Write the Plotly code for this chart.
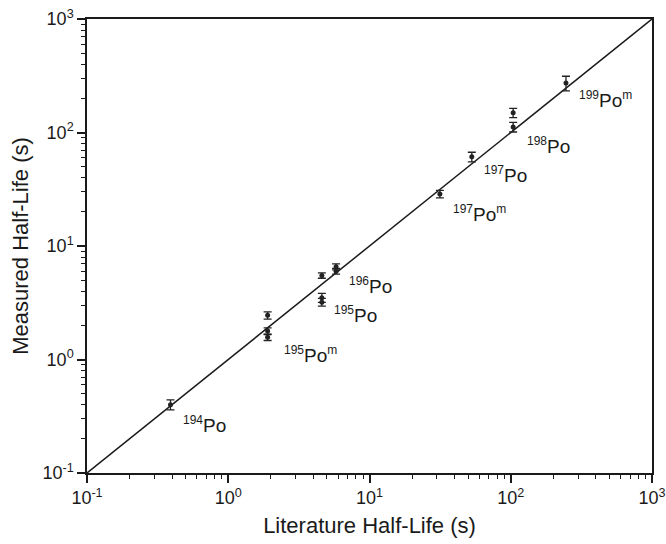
import math
import plotly.graph_objects as go

# Data (literature half-life, measured half-life, error) in seconds
lit = [0.39, 1.9, 1.9, 1.9, 4.6, 4.6, 4.6, 5.8, 5.8, 31.5, 53, 104, 104, 246]
meas = [0.40, 2.45, 1.78, 1.57, 3.5, 3.2, 5.5, 6.55, 6.0, 28.7, 61, 149, 112, 273]
err = [0.04, 0.18, 0.12, 0.1, 0.32, 0.25, 0.3, 0.4, 0.35, 2.2, 6, 14, 11, 40]

mass = ["194", "195", "195", "196", "197", "197", "198", "199"]
isomer = [False, True, False, False, True, False, False, True]
label_x = [0.68, 3.8, 7.9, 10.1, 60.5, 92.5, 184, 472]
label_y = [0.27, 1.1, 2.47, 4.45, 19.5, 42.3, 77.6, 197]

line_x = [0.1, 1000]
tickvals = [0.1, 1, 10, 100, 1000]
ticktext = ["10<sup>-1</sup>", "10<sup>0</sup>", "10<sup>1</sup>", "10<sup>2</sup>", "10<sup>3</sup>"]

FONT = "Liberation Sans, Arial"
INK = "#1a1a1a"


def sup(s):
    return "<sup><span style='font-size:12px'>" + s + "</span></sup>"


fig = go.Figure()
fig.add_trace(go.Scatter(x=line_x, y=line_x, mode="lines",
                         line=dict(color=INK, width=1.5), hoverinfo="skip"))
fig.add_trace(go.Scatter(x=lit, y=meas, mode="markers",
                         marker=dict(color="#222222", size=5),
                         error_y=dict(type="data", array=err, visible=True,
                                      color="#222222", thickness=1.3, width=4)))

for m, iso, x, y in zip(mass, isomer, label_x, label_y):
    t = sup(m) + "Po" + (sup("m") if iso else "")
    fig.add_annotation(x=math.log10(x), y=math.log10(y),
                       text=t, showarrow=False, xanchor="center", yanchor="middle",
                       font=dict(size=19, color=INK, family=FONT))

axis_common = dict(type="log", showline=True, linecolor=INK, linewidth=1.5, mirror=True,
                   ticks="outside", ticklen=8, tickwidth=1.5, tickcolor=INK, automargin=False,
                   showgrid=False, zeroline=False, tickvals=tickvals, ticktext=ticktext,
                   tickfont=dict(size=18, color=INK, family=FONT),
                   minor=dict(ticks="outside", ticklen=4, tickwidth=1.2, tickcolor=INK,
                              dtick="D1", showgrid=False))

fig.update_xaxes(range=[-1, 3], title=dict(text="Literature Half-Life (s)", standoff=10,
                 font=dict(size=22, color=INK, family=FONT)), **axis_common)
fig.update_yaxes(range=[-1, 3], title=dict(text="Measured Half-Life (s)", standoff=8,
                 font=dict(size=22, color=INK, family=FONT)), **axis_common)

fig.update_layout(width=666, height=544, margin=dict(l=87, r=14, t=19, b=71),
                  plot_bgcolor="white", paper_bgcolor="white", showlegend=False)

fig.write_html("out.html")
